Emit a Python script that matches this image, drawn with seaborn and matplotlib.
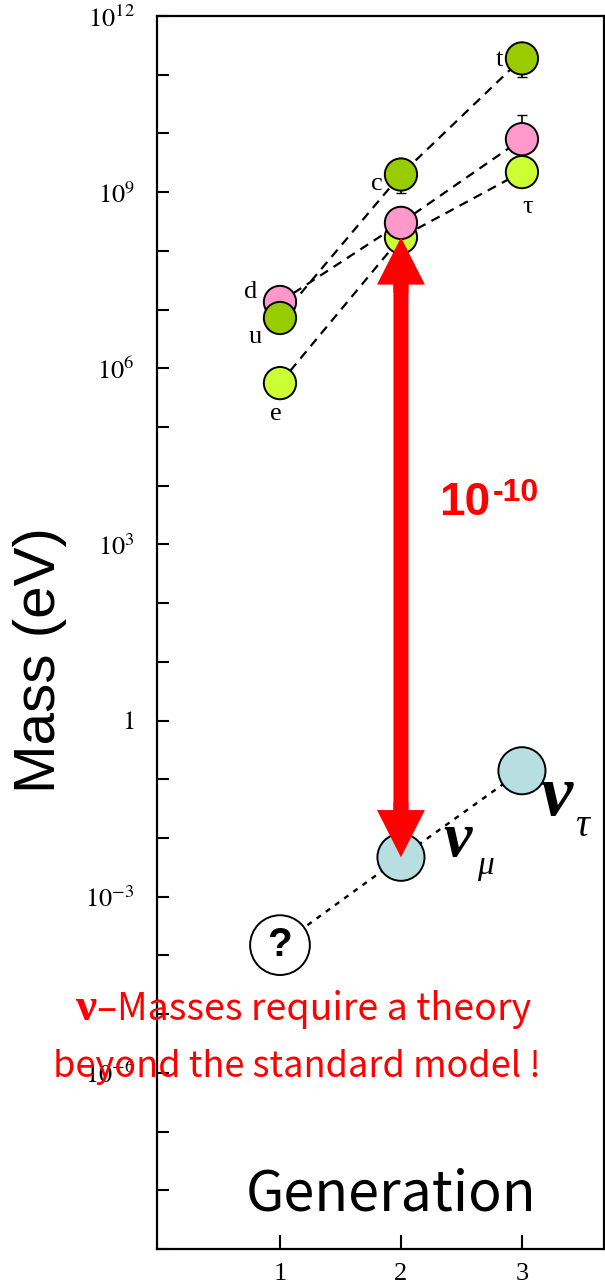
import numpy as np
import pandas as pd
import matplotlib
matplotlib.use("Agg")
import matplotlib.pyplot as plt
from matplotlib.ticker import FixedLocator, FuncFormatter
import seaborn as sns

# -------------------------------------------------------------------
# Data (masses in eV)
# -------------------------------------------------------------------
generation = [1, 2, 3]
up_quarks = [7.2e6, 2.0e9, 1.9e11]      # u, c, t
down_quarks = [1.35e7, 3.0e8, 8.0e9]    # d, s, b
leptons = [5.6e5, 1.7e8, 2.2e9]         # e, mu, tau
neutrinos = [1.5e-4, 4.7e-3, 0.14]      # ?, nu_mu, nu_tau

up_names = ["u", "c", "t"]
down_names = ["d", "s", "b"]
lepton_names = ["e", "\u03bc", "\u03c4"]

# mass uncertainty ranges drawn as small bars (c, t, b)
err_gen = [2, 3, 3]
err_mass = [2.0e9, 1.9e11, 8.0e9]
err_low = [9.6e8, 9.1e10, 8.0e9]
err_high = [2.0e9, 1.9e11, 2.1e10]

family_colors = {"up": "#99CC00", "down": "#FF99CC", "lepton": "#CCFF33"}
nu_color = "#B7DEE0"

y_decades = list(range(-9, 13))
y_labelled = [12, 9, 6, 3, 0, -3, -6]

# -------------------------------------------------------------------
# Tables
# -------------------------------------------------------------------
df = pd.DataFrame({
    "generation": generation * 3,
    "mass": up_quarks + down_quarks + leptons,
    "family": ["up"] * 3 + ["down"] * 3 + ["lepton"] * 3,
    "name": up_names + down_names + lepton_names,
})
# stacking of the overlapping circles as in the picture
df_draw = df.iloc[[3, 0, 1, 2, 7, 4, 5, 8, 6]]

df_nu = pd.DataFrame({
    "generation": generation,
    "mass": neutrinos,
    "kind": ["unknown", "nu", "nu"],
})

# -------------------------------------------------------------------
# Figure
# -------------------------------------------------------------------
sns.set_style("ticks")
plt.rcParams["mathtext.fontset"] = "stix"
plt.rcParams["font.family"] = ["Liberation Serif", "DejaVu Serif"]
plt.rcParams["text.color"] = "black"

fig = plt.figure(figsize=(6.05, 12.85), dpi=100)
ax = fig.add_axes([0.2595, 0.028, 0.7388, 0.9595])
ax.set_yscale("log")

sns.lineplot(data=df, x="generation", y="mass", units="family", estimator=None,
             color="black", lw=1.6, ax=ax, legend=False, zorder=1)
for line in ax.lines:
    line.set_linestyle((0, (4.2, 3.0)))

sns.lineplot(data=df_nu, x="generation", y="mass", color="black", lw=1.7,
             ax=ax, legend=False, zorder=1, linestyle=(0, (2.2, 2.6)))

ax.errorbar(err_gen, err_mass,
            yerr=[np.array(err_mass) - np.array(err_low),
                  np.array(err_high) - np.array(err_mass)],
            fmt="none", ecolor="black", elinewidth=1.2, capsize=3.5, zorder=2)

sns.scatterplot(data=df_draw, x="generation", y="mass", hue="family",
                palette=family_colors, s=540, edgecolor="black", linewidth=1.4,
                legend=False, ax=ax, zorder=3)
sns.scatterplot(data=df_nu, x="generation", y="mass", hue="kind", size="kind",
                palette={"unknown": "white", "nu": nu_color},
                sizes={"unknown": 1850, "nu": 1150},
                edgecolor="black", linewidth=1.4, legend=False, ax=ax, zorder=3)

# particle labels
label_offsets = {"t": (-16, -1), "c": (-17, -7), "d": (-21, 7),
                 "u": (-18, -14), "e": (-3, -22), "\u03c4": (4, -25)}
for _, row in df.iterrows():
    if row["name"] in label_offsets:
        ax.annotate(row["name"], (row["generation"], row["mass"]),
                    xytext=label_offsets[row["name"]], textcoords="offset points",
                    ha="center", va="center", fontsize=19, zorder=4)

ax.annotate("?", (generation[0], neutrinos[0]), ha="center", va="center",
            fontsize=29, fontweight="bold", family=["Liberation Sans"], zorder=4)

# neutrino labels
nu_font = dict(family=["Liberation Serif"], style="italic", fontweight="bold",
               ha="center", va="center", textcoords="offset points", zorder=4)
ax.annotate("\u03bd", (generation[1], neutrinos[1]), xytext=(41, 12),
            fontsize=46, **nu_font)
ax.annotate("\u03bc", (generation[1], neutrinos[1]), xytext=(61, -6),
            fontsize=24, **{**nu_font, "fontweight": "normal"})
ax.annotate("\u03bd", (generation[2], neutrinos[2]), xytext=(25, -19),
            fontsize=52, **nu_font)
ax.annotate("\u03c4", (generation[2], neutrinos[2]), xytext=(43, -40),
            fontsize=28, **{**nu_font, "fontweight": "normal"})

# red double arrow between muon and nu_mu masses: shaft + two heads
ax.annotate("", xy=(generation[1], leptons[1]), xytext=(generation[1], neutrinos[1]),
            arrowprops=dict(arrowstyle="-", lw=10.8, color="#FF0000",
                            shrinkA=28, shrinkB=28), zorder=5)
head = dict(width=10.8, headwidth=34.5, headlength=34, shrink=0,
            color="#FF0000", lw=0)
ax.annotate("", xy=(generation[1], leptons[1]), xytext=(0, -40),
            textcoords="offset points", arrowprops=head, zorder=5)
ax.annotate("", xy=(generation[1], neutrinos[1]), xytext=(0, 40),
            textcoords="offset points", arrowprops=head, zorder=5)

ax.text(0.745, 0.605, "10", transform=ax.transAxes, ha="right", va="center",
        color="#FF0000", fontsize=33, fontweight="bold", family=["Liberation Sans"])
ax.text(0.752, 0.613, "-10", transform=ax.transAxes, ha="left", va="center",
        color="#FF0000", fontsize=23, fontweight="bold", family=["Liberation Sans"])

# axes, ticks
ax.set_xlim(-0.0165, 3.678)
ax.set_ylim(1e-9, 1e12)
ax.set_xticks(generation)
ax.set_xticklabels([str(g) for g in generation])
ax.yaxis.set_major_locator(FixedLocator([10.0 ** d for d in y_decades]))
ax.yaxis.set_minor_locator(FixedLocator([]))


def decade_label(v, pos):
    d = int(round(np.log10(v)))
    if d not in y_labelled:
        return ""
    return "$1$" if d == 0 else "$10^{%d}$" % d


ax.yaxis.set_major_formatter(FuncFormatter(decade_label))
ax.tick_params(axis="y", direction="in", length=8.5, width=1.5, pad=16,
               labelsize=19, colors="black")
ax.tick_params(axis="x", direction="in", length=10, width=1.5, pad=10,
               labelsize=19, colors="black")
for side in ["left", "bottom", "top", "right"]:
    ax.spines[side].set_linewidth(1.6)
    ax.spines[side].set_color("black")
ax.set_xlabel("")
ax.set_ylabel("")

fig.text(40 / 605, 1 - 660 / 1285, "Mass (eV)", rotation=90, ha="center",
         va="center", fontsize=42, color="black", family=["Liberation Sans"])
ax.text(0.523, 0.0316, "Generation", transform=ax.transAxes, ha="center",
        va="baseline", fontsize=40, color="black",
        family=["Noto Sans CJK JP", "DejaVu Sans"])

# red note
fig.text(96 / 605, 1 - 1020 / 1285, "\u03bd", ha="right", va="baseline",
         color="#FF0000", fontsize=34, fontweight="bold",
         family=["Liberation Serif"])
fig.text(97 / 605, 1 - 1020 / 1285, "\u2013Masses require a theory",
         ha="left", va="baseline", color="#FF0000", fontsize=27,
         family=["Noto Sans CJK JP", "DejaVu Sans"])
fig.text(297 / 605, 1 - 1077 / 1285, "beyond the standard model !",
         ha="center", va="baseline", color="#FF0000", fontsize=26,
         family=["Noto Sans CJK JP", "DejaVu Sans"])

fig.savefig("out.png", dpi=100)
